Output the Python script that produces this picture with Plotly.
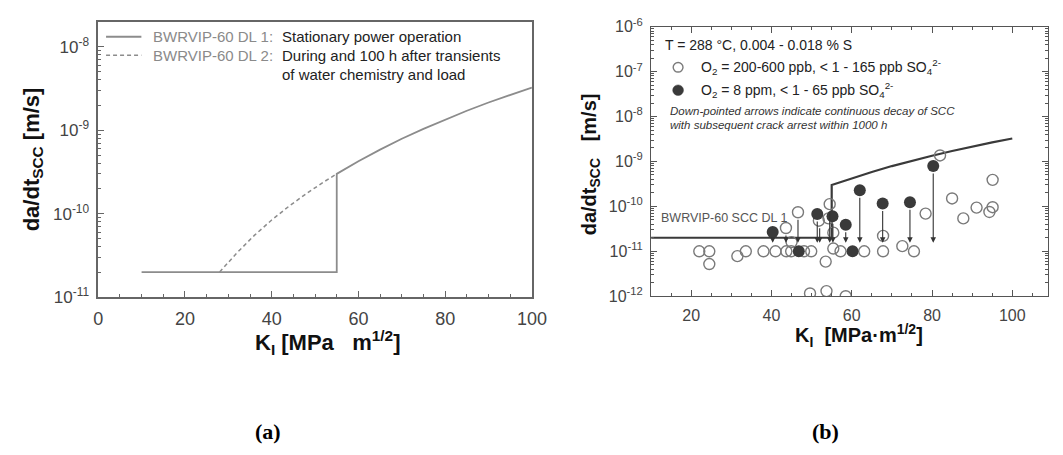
import numpy as np
import plotly.graph_objects as go

# ---------------- data ----------------
# BWRVIP-60 disposition line 1 (stationary power operation)
dl1_K = [10, 55, 55, 60, 65, 70, 75, 80, 85, 90, 95, 100]
dl1_v = [2.0e-11, 2.0e-11, 3.0e-10, 4.25e-10, 5.85e-10, 7.9e-10, 1.04e-9,
         1.34e-9, 1.71e-9, 2.15e-9, 2.67e-9, 3.25e-9]
# BWRVIP-60 disposition line 2 (transients)
dl2_K = [28, 32, 36, 40, 44, 48, 52, 55]
dl2_v = [2.0e-11, 3.4e-11, 5.5e-11, 8.4e-11, 1.23e-10, 1.74e-10, 2.4e-10, 3.0e-10]

# (b) O2 = 200-600 ppb (open circles)
open_K = [22.0, 24.5, 33.6, 38.0, 41.0, 43.7, 44.9, 48.1, 49.9, 57.2, 63.1, 67.8, 75.5,
          24.5, 31.5, 53.5, 55.4, 72.6, 45.0, 43.6, 46.6, 51.8, 54.2, 54.5, 55.4,
          67.8, 78.4, 82.0, 85.0, 87.8, 91.1, 94.3, 95.1, 95.1, 49.6, 53.7, 58.5]
open_v = [1.0e-11, 1.0e-11, 1.0e-11, 1.0e-11, 1.0e-11, 1.0e-11, 1.0e-11, 1.0e-11, 1.0e-11,
          1.0e-11, 1.0e-11, 1.0e-11, 1.0e-11,
          5.2e-12, 7.8e-12, 5.9e-12, 1.15e-11, 1.3e-11, 1.6e-11, 3.3e-11, 7.4e-11, 4.8e-11,
          5.4e-11, 1.12e-10, 2.6e-11,
          2.2e-11, 6.9e-11, 1.36e-9, 1.5e-10, 5.4e-11, 9.4e-11, 7.5e-11, 9.6e-11, 3.9e-10,
          1.15e-12, 1.3e-12, 1.0e-12]
# (b) O2 = 8 ppm (filled circles)
fill_K = [40.3, 46.8, 51.4, 55.2, 58.5, 60.2, 62.0, 67.7, 74.5, 80.3]
fill_v = [2.7e-11, 1.0e-11, 6.8e-11, 6.0e-11, 3.9e-11, 1.0e-11, 2.3e-10, 1.16e-10, 1.24e-10, 7.9e-10]
# down-pointed arrows (continuous decay of SCC)
arrow_K = [40.3, 43.6, 46.6, 51.4, 52.0, 54.5, 55.3, 58.5, 62.0, 67.7, 74.5, 80.3]
arrow_from = [2.7e-11, 3.3e-11, 7.4e-11, 6.8e-11, 4.8e-11, 1.12e-10, 6.0e-11, 3.9e-11,
              2.3e-10, 1.16e-10, 1.24e-10, 7.9e-10]
arrow_to = [1.55e-11] * 12

left_xticks = [0, 20, 40, 60, 80, 100]
left_yticks = [1e-11, 1e-10, 1e-9, 1e-8]
left_yticktext = ["10<sup>-11</sup>", "10<sup>-10</sup>", "10<sup>-9</sup>", "10<sup>-8</sup>"]
right_xticks = [20, 40, 60, 80, 100]
right_yticks = [1e-12, 1e-11, 1e-10, 1e-9, 1e-8, 1e-7, 1e-6]
right_yticktext = ["10<sup>-12</sup>", "10<sup>-11</sup>", "10<sup>-10</sup>", "10<sup>-9</sup>",
                   "10<sup>-8</sup>", "10<sup>-7</sup>", "10<sup>-6</sup>"]

# ---------------- layout helpers ----------------
W, H = 1063, 455
def px(x):
    return x / W
def py(y):
    return 1 - y / H

FONT = "Liberation Sans, Arial, sans-serif"
minor_left = [m * 10.0 ** e for e in range(-11, -7) for m in range(2, 10)]
minor_right = [m * 10.0 ** e for e in range(-12, -6) for m in range(2, 10)]

fig = go.Figure()

# ---- panel (a)
fig.add_trace(go.Scatter(x=dl1_K, y=dl1_v, mode="lines", xaxis="x", yaxis="y",
                         line=dict(color="#8c8c8c", width=1.8), showlegend=False))
fig.add_trace(go.Scatter(x=dl2_K, y=dl2_v, mode="lines", xaxis="x", yaxis="y",
                         line=dict(color="#8c8c8c", width=1.5, dash="4px,3px"), showlegend=False))

# ---- panel (b)
fig.add_trace(go.Scatter(x=dl1_K, y=dl1_v, mode="lines", xaxis="x2", yaxis="y2",
                         line=dict(color="#3a3a3a", width=2.2), showlegend=False))
fig.add_trace(go.Scatter(x=open_K, y=open_v, mode="markers", xaxis="x2", yaxis="y2",
                         marker=dict(symbol="circle-open", size=11, color="#7a7a7a",
                                     line=dict(width=1.4, color="#7a7a7a")),
                         showlegend=False))
fig.add_trace(go.Scatter(x=fill_K, y=fill_v, mode="markers", xaxis="x2", yaxis="y2",
                         marker=dict(symbol="circle", size=12, color="#3a3a3a",
                                     line=dict(width=0)),
                         showlegend=False))

annotations = []
for k, a, b in zip(arrow_K, arrow_from, arrow_to):
    annotations.append(dict(x=k, y=np.log10(b), ax=k, ay=np.log10(a),
                            xref="x2", yref="y2", axref="x2", ayref="y2",
                            showarrow=True, arrowhead=2, arrowsize=1, arrowwidth=1.1,
                            arrowcolor="#333333", text="", startstandoff=6))

def txt(x, y, s, size, color="#222", xanchor="left", yanchor="middle", angle=0,
        family=FONT):
    annotations.append(dict(x=px(x), y=py(y), xref="paper", yref="paper", text=s,
                            showarrow=False, xanchor=xanchor, yanchor=yanchor,
                            textangle=angle, font=dict(size=size, color=color, family=family)))

# panel (a) legend text
txt(148.7, 27, "BWRVIP-60 DL 1:", 15, color="#8a8a8a")
txt(280.6, 27, "Stationary power operation", 15)
txt(148.7, 46.5, "BWRVIP-60 DL 2:", 15, color="#8a8a8a")
txt(280.6, 46.5, "During and 100 h after transients", 15)
txt(280.6, 66.5, "of water chemistry and load", 15)

# axis titles (a)
txt(329, 348, "<b>K<sub>I</sub> [MPa   m<sup>1/2</sup>]</b>", 22, color="#111", xanchor="center")
txt(28, 155, "<b>da/dt<sub>SCC</sub> [m/s]</b>", 22, color="#111", xanchor="center", angle=-90)

# panel (b) texts
txt(671, 36, "T = 288 °C, 0.004 - 0.018 % S", 14)
txt(707, 59, "O<sub>2</sub> = 200-600 ppb, &lt; 1 - 165 ppb SO<sub>4</sub><sup>2-</sup>", 14)
txt(707, 83, "O<sub>2</sub> = 8 ppm, &lt; 1 - 65 ppb SO<sub>4</sub><sup>2-</sup>", 14)
txt(675.5, 104.5, "<i>Down-pointed arrows indicate continuous decay of SCC</i>", 11.5, color="#333")
txt(675.5, 119.5, "<i>with subsequent crack arrest within 1000 h</i>", 11.5, color="#333")
txt(666.6, 216.6, "BWRVIP-60 SCC DL 1", 12.5, color="#555")

# axis titles (b)
txt(870, 340, "<b>K<sub>I</sub>  [MPa·m<sup>1/2</sup>]</b>", 20, color="#111", xanchor="center")
txt(597, 161, "<b>da/dt<sub>SCC</sub>   [m/s]</b>", 20, color="#111", xanchor="center", angle=-90)

# (a) / (b) captions
txt(268, 441, "<b>(a)</b>", 22, color="#000", xanchor="center", family="Liberation Serif, serif")
txt(836, 441, "<b>(b)</b>", 22, color="#000", xanchor="center", family="Liberation Serif, serif")

shapes = [
    dict(type="line", xref="paper", yref="paper", x0=px(103), x1=px(139), y0=py(27), y1=py(27),
         line=dict(color="#8c8c8c", width=1.8)),
    dict(type="line", xref="paper", yref="paper", x0=px(103), x1=px(139), y0=py(46.5), y1=py(46.5),
         line=dict(color="#8c8c8c", width=1.5, dash="4px,3px")),
    dict(type="circle", xref="paper", yref="paper", x0=px(681), x1=px(691), y0=py(54), y1=py(64),
         line=dict(color="#7a7a7a", width=1.4)),
    dict(type="circle", xref="paper", yref="paper", x0=px(680.5), x1=px(691.5), y0=py(77.5), y1=py(88.5),
         line=dict(color="#3a3a3a", width=0.5), fillcolor="#3a3a3a"),
]

axis_common = dict(showgrid=False, zeroline=False, showline=True, ticks="inside")

fig.update_layout(
    width=W, height=H, margin=dict(l=0, r=0, t=0, b=0),
    paper_bgcolor="white", plot_bgcolor="white", showlegend=False,
    font=dict(family=FONT, color="#333"),
    xaxis=dict(**axis_common, domain=[px(95), px(537)], range=[0, 100], anchor="y",
               tickvals=left_xticks, ticklen=6, tickwidth=1.2, tickcolor="#666",
               linecolor="#666", linewidth=1.5, mirror=True,
               minor=dict(dtick=5, ticks="inside", ticklen=3.5, tickcolor="#666", tickwidth=1),
               tickfont=dict(size=18, color="#444"), ticklabelstandoff=4),
    yaxis=dict(**axis_common, type="log", domain=[py(300), py(11.2)], range=[-11, -7.6994],
               anchor="x", tickvals=left_yticks, ticktext=left_yticktext,
               ticklen=6, tickwidth=1.2, tickcolor="#666", linecolor="#666", linewidth=1.5,
               mirror=True,
               minor=dict(tickvals=minor_left, ticks="inside", ticklen=3, tickcolor="#666", tickwidth=1),
               tickfont=dict(size=17, color="#444"), ticklabelstandoff=4),
    xaxis2=dict(**axis_common, domain=[px(658.5), 1.0], range=[10, 108.9], anchor="y2",
                tickvals=right_xticks, ticklen=6, tickwidth=1.2, tickcolor="#555",
                linecolor="#555", linewidth=1.3, mirror="allticks",
                minor=dict(dtick=5, ticks="inside", ticklen=3.5, tickcolor="#555", tickwidth=1),
                tickfont=dict(size=16, color="#444"), ticklabelstandoff=4),
    yaxis2=dict(**axis_common, type="log", domain=[py(299), py(16.5)], range=[-12, -6],
                anchor="x2", tickvals=right_yticks, ticktext=right_yticktext,
                ticklen=6, tickwidth=1.2, tickcolor="#555", linecolor="#555", linewidth=1.3,
                mirror="allticks",
                minor=dict(tickvals=minor_right, ticks="inside", ticklen=3, tickcolor="#555", tickwidth=1),
                tickfont=dict(size=16, color="#444"), ticklabelstandoff=4),
    annotations=annotations, shapes=shapes,
)

fig.write_html("out.html")
